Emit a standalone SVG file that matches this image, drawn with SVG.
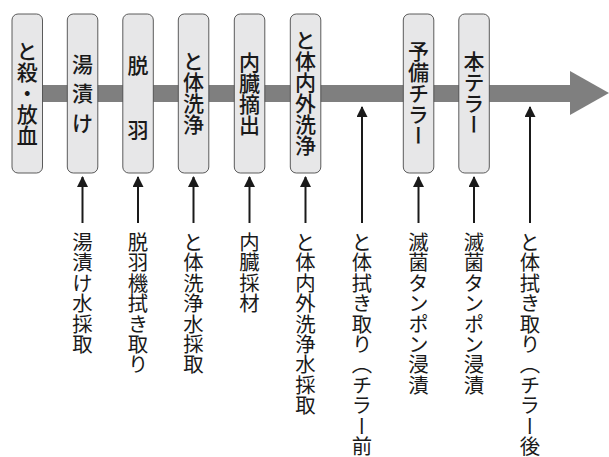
<svg xmlns="http://www.w3.org/2000/svg" width="609" height="457" viewBox="0 0 609 457">
<style>
.box{fill:#e7e7e8;stroke:#4a4a4a;stroke-width:0.9}
.bt{font-family:"Noto Sans CJK JP","Noto Sans",sans-serif;font-size:21px;font-weight:500;fill:#1a1a1a;writing-mode:vertical-rl;text-anchor:middle}
.bc{font-family:"Noto Sans CJK JP","Noto Sans",sans-serif;font-size:21px;font-weight:500;fill:#1a1a1a;text-anchor:middle;dominant-baseline:central}
.lt{font-family:"Noto Sans CJK JP","Noto Sans",sans-serif;font-size:20.4px;fill:#1a1a1a;writing-mode:vertical-rl;text-anchor:start}
.ar{stroke:#1a1a1a;stroke-width:2;fill:none}
</style>
<defs>
<marker id="ah" markerWidth="11" markerHeight="11" refX="10" refY="5.5" orient="auto" markerUnits="userSpaceOnUse" viewBox="0 0 11 11">
<path d="M0,0 L11,5.5 L0,11 Z" fill="#1a1a1a"/>
</marker>
</defs>
<g id="flow">
<rect x="27" y="85" width="545" height="17" fill="#7f7f7f"/>
<path d="M570,71 L609,93 L570,115 Z" fill="#7f7f7f"/>
</g>
<g id="connectors">
<line class="ar" x1="82.5" y1="223" x2="82.5" y2="177" marker-end="url(#ah)"/>
<line class="ar" x1="138" y1="223" x2="138" y2="177" marker-end="url(#ah)"/>
<line class="ar" x1="193.5" y1="223" x2="193.5" y2="177" marker-end="url(#ah)"/>
<line class="ar" x1="249.5" y1="223" x2="249.5" y2="177" marker-end="url(#ah)"/>
<line class="ar" x1="305.5" y1="223" x2="305.5" y2="177" marker-end="url(#ah)"/>
<line class="ar" x1="362" y1="223" x2="362" y2="107" marker-end="url(#ah)"/>
<line class="ar" x1="418.5" y1="223" x2="418.5" y2="177" marker-end="url(#ah)"/>
<line class="ar" x1="474" y1="223" x2="474" y2="177" marker-end="url(#ah)"/>
<line class="ar" x1="530" y1="223" x2="530" y2="107" marker-end="url(#ah)"/>
</g>
<g id="n1"><rect class="box" x="12" y="14" width="30.5" height="159" rx="6"/><text class="bt" x="27.2" y="93">と殺・放血</text></g>
<g id="n2"><rect class="box" x="67.3" y="14" width="30.5" height="159" rx="6"/><text class="bc" x="82.5" y="63">湯</text><text class="bc" x="82.5" y="92">漬</text><text class="bc" x="82.5" y="122">け</text></g>
<g id="n3"><rect class="box" x="122.8" y="14" width="30.5" height="159" rx="6"/><text class="bc" x="138" y="64">脱</text><text class="bc" x="138" y="129">羽</text></g>
<g id="n4"><rect class="box" x="178.3" y="14" width="30.5" height="159" rx="6"/><text class="bt" x="193.5" y="93">と体洗浄</text></g>
<g id="n5"><rect class="box" x="234.3" y="14" width="30.5" height="159" rx="6"/><text class="bt" x="249.5" y="94">内臓摘出</text></g>
<g id="n6"><rect class="box" x="290.3" y="14" width="30.5" height="159" rx="6"/><text class="bt" x="305.5" y="93">と体内外洗浄</text></g>
<g id="n7"><rect class="box" x="403.3" y="14" width="30.5" height="159" rx="6"/><text class="bt" x="418.5" y="93">予備チラー</text></g>
<g id="n8"><rect class="box" x="458.8" y="14" width="30.5" height="159" rx="6"/><text class="bt" x="474" y="93">本テラー</text></g>
<g id="labels">
<text class="lt" x="82.5" y="232">湯漬け水採取</text>
<text class="lt" x="138" y="232">脱羽機拭き取り</text>
<text class="lt" x="193.5" y="232">と体洗浄水採取</text>
<text class="lt" x="249.5" y="232">内臓採材</text>
<text class="lt" x="305.5" y="232">と体内外洗浄水採取</text>
<text class="lt" x="362" y="232">と体拭き取り（チラー前</text>
<text class="lt" x="418.5" y="232">滅菌タンポン浸漬</text>
<text class="lt" x="474" y="232">滅菌タンポン浸漬</text>
<text class="lt" x="530" y="232">と体拭き取り（チラー後</text>
</g>
</svg>
